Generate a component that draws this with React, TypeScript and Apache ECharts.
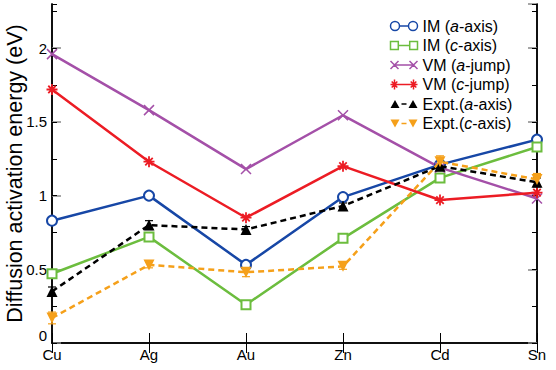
import React, { useEffect, useRef } from "react";
import * as echarts from "echarts";

const categories = ["Cu", "Ag", "Au", "Zn", "Cd", "Sn"];
const imA = [0.83, 1.0, 0.53, 0.99, 1.21, 1.38];
const imC = [0.47, 0.72, 0.26, 0.71, 1.12, 1.33];
const vmA = [1.96, 1.58, 1.18, 1.545, 1.19, 0.98];
const vmC = [1.72, 1.23, 0.85, 1.2, 0.97, 1.02];
const exptA = [0.35, 0.8, 0.77, 0.93, 1.2, 1.09];
const exptC = [0.17, 0.53, 0.48, 0.52, 1.23, 1.11];
const exptAErr = [0.03, 0.03, 0.02, 0.02, 0.03, 0.03];
const exptCErr = [0.04, 0.02, 0.03, 0.02, 0.04, 0.04];
const yTickLabels = ["0", "0.5", "1", "1.5", "2"];
const seriesNames = ["IM (a-axis)", "IM (c-axis)", "VM (a-jump)", "VM (c-jump)", "Expt.(a-axis)", "Expt.(c-axis)"];

const FONT = "'Liberation Sans', Arial, Helvetica, sans-serif";

const BLUE = "#1747a6";
const GREEN = "#6cbd3e";
const PURPLE = "#a450a8";
const RED = "#ec1c24";
const BLACK = "#000";
const ORANGE = "#f5a01a";

const X_PATH = "path://M0,0L10,10M10,0L0,10";
const STAR_PATH = "path://M5,0L5,10M0,5L10,5M1.6,1.6L8.4,8.4M8.4,1.6L1.6,8.4";
const DOWN_TRI = "path://M0,0L10,0L5,9Z";

// legend icons: marker - line - marker
const LEG_IM_A = "path://M0,5A4.5,4.5 0 1,0 9,5A4.5,4.5 0 1,0 0,5Z M18,5A4.5,4.5 0 1,0 27,5A4.5,4.5 0 1,0 18,5Z M9,5L18,5";
const LEG_IM_C = "path://M0.5,1H8V8.5H0.5Z M19,1H26.5V8.5H19Z M8,4.75L19,4.75";
const LEG_VM_A = "path://M0,1L8,9M8,1L0,9 M19,1L27,9M27,1L19,9 M4,5L23,5";
const LEG_VM_C = "path://M4,0V10M0,5H8M1.2,2L6.8,8M6.8,2L1.2,8 M23,0V10M19,5H27M20.2,2L25.8,8M25.8,2L20.2,8 M4,5L23,5";
const LEG_EX_A = "path://M0,9L4.5,1L9,9Z M18,9L22.5,1L27,9Z M11,4.2H16V5.8H11Z";
const LEG_EX_C = "path://M0,1H9L4.5,9Z M18,1H27L22.5,9Z M11,4.2H16V5.8H11Z";

export default function App() {
  const ref = useRef<HTMLDivElement>(null);
  useEffect(() => {
    if (!ref.current) return;
    const chart = echarts.init(ref.current, null, { renderer: "svg" });

    const errSeries = (vals: number[], errs: number[], color: string) => ({
      type: "custom",
      silent: true,
      z: 1,
      data: vals.map((v, i) => [i, v - errs[i], v + errs[i]]),
      renderItem: (params: any, api: any) => {
        const lo = api.coord([api.value(0), api.value(1)]);
        const hi = api.coord([api.value(0), api.value(2)]);
        const w = 4;
        return {
          type: "group",
          children: [
            { type: "line", shape: { x1: lo[0], y1: lo[1], x2: hi[0], y2: hi[1] }, style: { stroke: color, lineWidth: 1.2 } },
            { type: "line", shape: { x1: lo[0] - w, y1: lo[1], x2: lo[0] + w, y2: lo[1] }, style: { stroke: color, lineWidth: 1.2 } },
            { type: "line", shape: { x1: hi[0] - w, y1: hi[1], x2: hi[0] + w, y2: hi[1] }, style: { stroke: color, lineWidth: 1.2 } },
          ],
        };
      },
    });

    const yBase = {
      type: "value",
      min: 0,
      max: 2.3,
      splitLine: { show: false },
      axisLine: { show: true, lineStyle: { color: "#000", width: 1.5 } },
    };

    const labelFmt = (v: number) => {
      const s = String(Math.round(v * 100) / 100);
      return yTickLabels.includes(s) ? s : "";
    };

    const legIcons = [LEG_IM_A, LEG_IM_C, LEG_VM_A, LEG_VM_C, LEG_EX_A, LEG_EX_C];
    const legStyles = [
      { color: "#fff", borderColor: BLUE, borderWidth: 1.5 },
      { color: "#fff", borderColor: GREEN, borderWidth: 1.5 },
      { color: "none", borderColor: PURPLE, borderWidth: 1.5 },
      { color: "none", borderColor: RED, borderWidth: 1.5 },
      { color: BLACK, borderColor: BLACK, borderWidth: 0 },
      { color: ORANGE, borderColor: ORANGE, borderWidth: 0 },
    ];

    const option: any = {
      animation: false,
      grid: { left: 52, right: 19, top: 4, bottom: 27, containLabel: false, outerBoundsMode: "none" },
      legend: {
        orient: "vertical",
        left: 383,
        top: 13,
        itemWidth: 27,
        itemHeight: 10,
        itemGap: 3.5,
        textStyle: {
          fontFamily: FONT,
          fontSize: 16,
          color: "#000",
          rich: { it: { fontStyle: "italic", fontFamily: FONT, fontSize: 16, color: "#000" } },
        },
        formatter: (name: string) => name.replace(/\((a|c)-/, "({it|$1}-"),
        data: seriesNames.map((n, i) => ({ name: n, icon: legIcons[i], itemStyle: legStyles[i] })),
      },
      xAxis: [
        {
          type: "category",
          data: categories,
          boundaryGap: false,
          position: "bottom",
          axisLine: { show: true, lineStyle: { color: "#000", width: 1.5 } },
          axisTick: { show: true, inside: true, length: 10, alignWithLabel: true, lineStyle: { color: "#000" } },
          axisLabel: { fontFamily: FONT, fontSize: 15, color: "#000", margin: 4 },
        },
        {
          type: "category",
          data: categories,
          boundaryGap: false,
          position: "top",
          axisLine: { show: true, lineStyle: { color: "#000", width: 1.5 } },
          axisTick: { show: true, inside: true, length: 10, lineStyle: { color: "#000" } },
          axisLabel: { show: false },
        },
      ],
      yAxis: [
        {
          ...yBase,
          position: "left",
          interval: 0.5,
          name: "Diffusion activation energy (eV)",
          nameLocation: "middle",
          nameGap: 26,
          nameMoveOverlap: false,
          nameTextStyle: { fontFamily: FONT, fontSize: 21.5, color: "#000" },
          axisTick: { show: true, inside: true, length: 9, lineStyle: { color: "#888", width: 1.5 } },
          axisLabel: {
            fontFamily: FONT,
            fontSize: 15,
            color: "#000",
            margin: 5,
            formatter: labelFmt,
            showMaxLabel: false,
            verticalAlignMinLabel: "bottom",
          },
        },
        {
          ...yBase,
          position: "left",
          interval: 0.25,
          axisTick: { show: true, inside: true, length: 5, lineStyle: { color: "#000" } },
          axisLabel: { show: false },
        },
        {
          ...yBase,
          position: "right",
          interval: 0.5,
          axisTick: { show: true, inside: true, length: 9, lineStyle: { color: "#888", width: 1.5 } },
          axisLabel: { show: false },
        },
        {
          ...yBase,
          position: "right",
          interval: 0.25,
          axisTick: { show: true, inside: true, length: 5, lineStyle: { color: "#000" } },
          axisLabel: { show: false },
        },
      ],
      series: [
        errSeries(exptA, exptAErr, BLACK),
        errSeries(exptC, exptCErr, ORANGE),
        {
          name: seriesNames[0],
          type: "line",
          data: imA,
          symbol: "emptyCircle",
          symbolSize: 10,
          z: 3,
          lineStyle: { color: BLUE, width: 2.5 },
          itemStyle: { color: BLUE, borderColor: BLUE, borderWidth: 1.5 },
        },
        {
          name: seriesNames[1],
          type: "line",
          data: imC,
          symbol: "emptyRect",
          symbolSize: 9,
          z: 3,
          lineStyle: { color: GREEN, width: 2.5 },
          itemStyle: { color: GREEN, borderColor: GREEN, borderWidth: 1.5 },
        },
        {
          name: seriesNames[2],
          type: "line",
          data: vmA,
          symbol: X_PATH,
          symbolSize: 10,
          z: 3,
          lineStyle: { color: PURPLE, width: 2.5 },
          itemStyle: { color: "none", borderColor: PURPLE, borderWidth: 1.5 },
        },
        {
          name: seriesNames[3],
          type: "line",
          data: vmC,
          symbol: STAR_PATH,
          symbolSize: 11,
          z: 3,
          lineStyle: { color: RED, width: 2.5 },
          itemStyle: { color: "none", borderColor: RED, borderWidth: 1.8 },
        },
        {
          name: seriesNames[4],
          type: "line",
          data: exptA,
          symbol: "triangle",
          symbolSize: 11,
          z: 4,
          lineStyle: { color: BLACK, width: 2.5, type: [6, 4] },
          itemStyle: { color: BLACK },
        },
        {
          name: seriesNames[5],
          type: "line",
          data: exptC,
          symbol: DOWN_TRI,
          symbolSize: 11,
          z: 4,
          lineStyle: { color: ORANGE, width: 2.5, type: [6, 4] },
          itemStyle: { color: ORANGE },
        },
      ],
    };
    chart.setOption(option);
    return () => chart.dispose();
  }, []);
  return <div ref={ref} style={{ width: 556, height: 370, position: "absolute", left: 0, top: 0, background: "#fff" }} />;
}
